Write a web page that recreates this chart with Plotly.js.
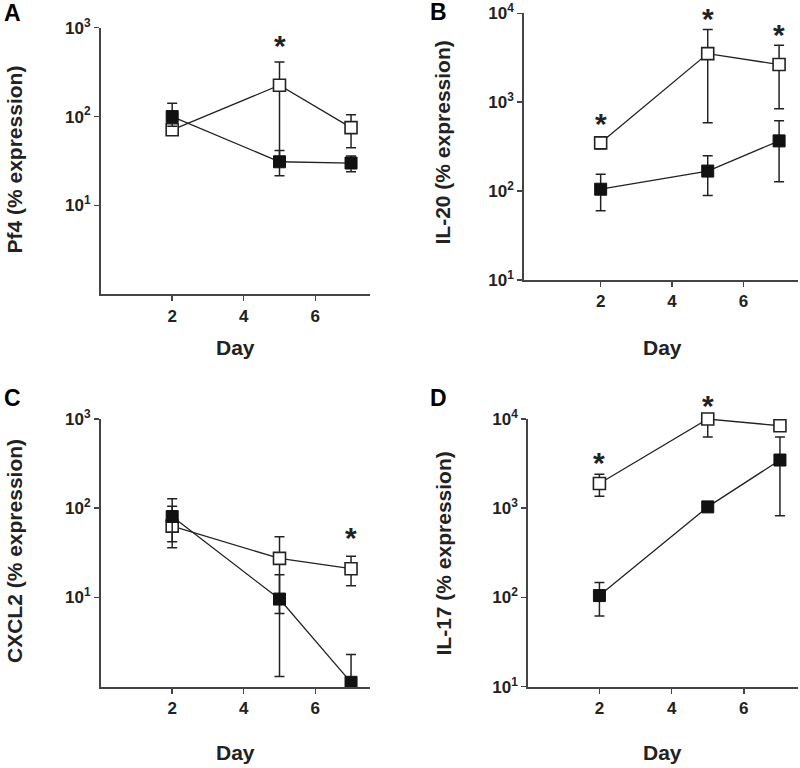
<!DOCTYPE html>
<html>
<head>
<meta charset="utf-8">
<script src="https://cdn.plot.ly/plotly-3.0.1.min.js"></script>
<style>html,body{margin:0;padding:0;background:#fff;}#chart{width:800px;height:768px;}</style>
</head>
<body>
<div id="chart"></div>
<script>
// ---- data ----
const days = [2, 5, 7];

// Panel A: Pf4
const pf4Filled   = [100, 31, 30];
const pf4FilledHi = [141, 41.5, 36];
const pf4FilledLo = [78, 21.6, 24];
const pf4Open     = [71, 225, 75];
const pf4OpenHi   = [80, 412, 105];
const pf4OpenLo   = [63, 35, 44.5];
const pf4SigDays  = [5];
const pf4SigY     = [747];

// Panel B: IL-20
const il20Filled   = [105, 168, 367];
const il20FilledHi = [155, 250, 620];
const il20FilledLo = [60, 89, 127];
const il20Open     = [349, 3520, 2650];
const il20OpenHi   = [385, 6560, 4365];
const il20OpenLo   = [300, 586, 843];
const il20SigDays  = [2, 5, 7];
const il20SigY     = [695, 10420, 6966];

// Panel C: CXCL2
const cxcl2Filled   = [80.7, 9.6, 1.12];
const cxcl2FilledHi = [128, 18, 2.3];
const cxcl2FilledLo = [36, 1.3, 1.12];
const cxcl2Open     = [63, 27.4, 21];
const cxcl2OpenHi   = [105, 48, 29];
const cxcl2OpenLo   = [42, 6.6, 13.5];
const cxcl2SigDays  = [7];
const cxcl2SigY     = [55.7];

// Panel D: IL-17
const il17Filled   = [105, 1035, 3470];
const il17FilledHi = [147, 1100, 6300];
const il17FilledLo = [62, 980, 822];
const il17Open     = [1890, 10000, 8400];
const il17OpenHi   = [2400, 10500, 8900];
const il17OpenLo   = [1365, 6300, 7900];
const il17SigDays  = [2, 5];
const il17SigY     = [3880, 17180];

const xTickVals = [2, 4, 6];
const xTickText = ['2', '4', '6'];
const yTitles = ['Pf4 (% expression)', 'IL-20 (% expression)', 'CXCL2 (% expression)', 'IL-17 (% expression)'];
const panelLetters = ['A', 'B', 'C', 'D'];
const xTitle = 'Day';

// ---- build ----
const FONT = 'Arial, "Liberation Sans", Helvetica, sans-serif';
const INK = '#222';
const AXIS = '#444';

const panels = [
  {f: pf4Filled, fh: pf4FilledHi, fl: pf4FilledLo, o: pf4Open, oh: pf4OpenHi, ol: pf4OpenLo, sd: pf4SigDays, sy: pf4SigY, decades: [0, 3]},
  {f: il20Filled, fh: il20FilledHi, fl: il20FilledLo, o: il20Open, oh: il20OpenHi, ol: il20OpenLo, sd: il20SigDays, sy: il20SigY, decades: [1, 4]},
  {f: cxcl2Filled, fh: cxcl2FilledHi, fl: cxcl2FilledLo, o: cxcl2Open, oh: cxcl2OpenHi, ol: cxcl2OpenLo, sd: cxcl2SigDays, sy: cxcl2SigY, decades: [0, 3]},
  {f: il17Filled, fh: il17FilledHi, fl: il17FilledLo, o: il17Open, oh: il17OpenHi, ol: il17OpenLo, sd: il17SigDays, sy: il17SigY, decades: [1, 4]}
];

// pixel geometry: [left, right, top, bottom]
const boxes = [
  [101, 370, 27.7, 294.3],
  [524.3, 798, 13.3, 280],
  [101, 370, 419, 686.7],
  [528.3, 798, 419, 686.7]
];
const xRanges = [[0.01, 7.53], [-0.14, 7.53], [0.01, 7.53], [0.03, 7.5]];
const W = 800, H = 768;

const traces = [];
const layout = {
  width: W, height: H,
  margin: {l: 0, r: 0, t: 0, b: 0},
  paper_bgcolor: '#fff', plot_bgcolor: '#fff',
  showlegend: false,
  font: {family: FONT, color: INK},
  annotations: []
};

function errs(v, hi, lo) {
  return {
    type: 'data', symmetric: false,
    array: hi.map((h, i) => h - v[i]),
    arrayminus: lo.map((l, i) => v[i] - l),
    color: INK, thickness: 1.5, width: 5
  };
}

panels.forEach((p, k) => {
  const n = k + 1;
  const xa = 'x' + (n === 1 ? '' : n), ya = 'y' + (n === 1 ? '' : n);
  const xk = 'xaxis' + (n === 1 ? '' : n), yk = 'yaxis' + (n === 1 ? '' : n);
  const b = boxes[k];
  const tv = [], tt = [];
  for (let d = p.decades[0]; d <= p.decades[1]; d++) {
    if (d === 0) continue;
    tv.push(Math.pow(10, d)); tt.push('10<sup>' + d + '</sup>');
  }
  layout[xk] = {
    domain: [b[0] / W, b[1] / W], anchor: ya, range: xRanges[k],
    tickvals: xTickVals, ticktext: xTickText, ticks: 'outside', ticklen: 5, tickwidth: 1.5, tickcolor: AXIS,
    showline: true, linecolor: AXIS, linewidth: 2, showgrid: false, zeroline: false,
    tickfont: {family: FONT, size: 17, color: INK, weight: 'bold'}, fixedrange: true
  };
  layout[yk] = {
    domain: [1 - b[3] / H, 1 - b[2] / H], anchor: xa, type: 'log', range: p.decades,
    tickvals: tv, ticktext: tt, ticks: 'outside', ticklen: 5, tickwidth: 1.5, tickcolor: AXIS,
    showline: true, linecolor: AXIS, linewidth: 2, showgrid: false, zeroline: false,
    tickfont: {family: FONT, size: 17, color: INK, weight: 'bold'}, fixedrange: true
  };
  // open squares
  traces.push({
    x: days, y: p.o, xaxis: xa, yaxis: ya, type: 'scatter', mode: 'lines+markers',
    line: {color: INK, width: 1.3},
    marker: {symbol: 'square', size: 12, color: '#fff', line: {color: INK, width: 1.6}},
    error_y: errs(p.o, p.oh, p.ol), cliponaxis: false
  });
  // filled squares
  traces.push({
    x: days, y: p.f, xaxis: xa, yaxis: ya, type: 'scatter', mode: 'lines+markers',
    line: {color: INK, width: 1.3},
    marker: {symbol: 'square', size: 12, color: '#111', line: {color: '#111', width: 1}},
    error_y: errs(p.f, p.fh, p.fl), cliponaxis: false
  });
  // significance asterisks: x in data units, y on the axis' own domain (not clipped)
  p.sd.forEach((d, i) => {
    const frac = (Math.log10(p.sy[i]) - p.decades[0]) / (p.decades[1] - p.decades[0]);
    layout.annotations.push({
      xref: xa, yref: ya + ' domain', x: d, y: frac,
      text: '*', showarrow: false, xanchor: 'center', yanchor: 'middle', yshift: -7,
      font: {family: FONT, size: 30, color: INK, weight: 'bold'}
    });
  });
});

// titles and panel letters as paper annotations
const yTitlePos = [[13.5, 160], [442.5, 143], [14, 551], [442.5, 554]];
const xTitlePos = [[235, 347], [662, 347], [235, 752], [662, 752]];
const letterPos = [[12, 13], [439, 12], [12, 398], [439, 398]];
for (let k = 0; k < 4; k++) {
  layout.annotations.push({
    xref: 'paper', yref: 'paper', x: yTitlePos[k][0] / W, y: 1 - yTitlePos[k][1] / H,
    text: yTitles[k], showarrow: false, textangle: -90, xanchor: 'center', yanchor: 'middle',
    font: {family: FONT, size: 21, color: INK, weight: 'bold'}
  });
  layout.annotations.push({
    xref: 'paper', yref: 'paper', x: xTitlePos[k][0] / W, y: 1 - xTitlePos[k][1] / H,
    text: xTitle, showarrow: false, xanchor: 'center', yanchor: 'middle',
    font: {family: FONT, size: 21, color: INK, weight: 'bold'}
  });
  layout.annotations.push({
    xref: 'paper', yref: 'paper', x: letterPos[k][0] / W, y: 1 - letterPos[k][1] / H,
    text: panelLetters[k], showarrow: false, xanchor: 'center', yanchor: 'middle',
    font: {family: FONT, size: 23, color: '#000', weight: 'bold'}
  });
}

Plotly.newPlot('chart', traces, layout, {displayModeBar: false, staticPlot: true});
</script>
</body>
</html>
